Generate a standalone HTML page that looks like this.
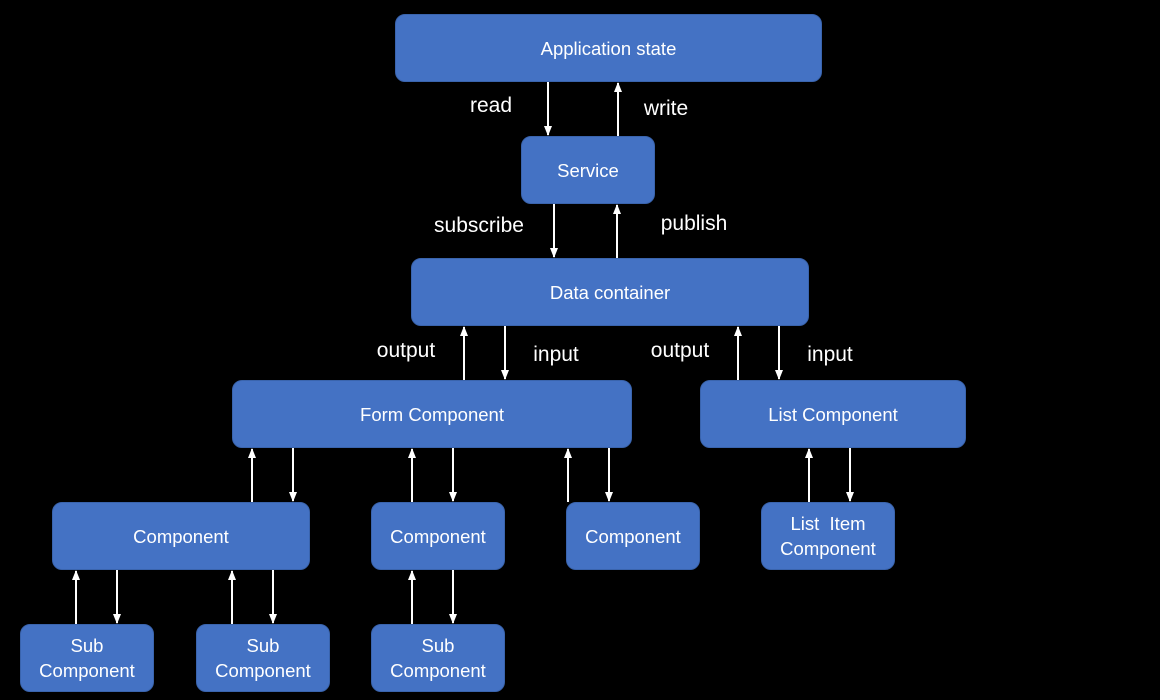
<!DOCTYPE html>
<html><head><meta charset="utf-8"><style>
html,body{margin:0;padding:0;background:#000;width:1160px;height:700px;overflow:hidden}
.b{position:absolute;background:#4472C4;border:1px solid #3a64ad;border-radius:10px;box-sizing:border-box;color:#fff;font-family:"Liberation Sans",sans-serif;font-size:18.5px;display:flex;align-items:center;justify-content:center;text-align:center;line-height:25px}
.l{position:absolute;color:#fff;font-family:"Liberation Sans",sans-serif;font-size:21px;transform:translate(-50%,-50%);white-space:nowrap}
svg{position:absolute;left:0;top:0}
</style></head><body>
<div class="b" style="left:395px;top:14px;width:427px;height:68px">Application state</div>
<div class="b" style="left:521px;top:136px;width:134px;height:68px">Service</div>
<div class="b" style="left:411px;top:258px;width:398px;height:68px">Data container</div>
<div class="b" style="left:232px;top:380px;width:400px;height:68px">Form Component</div>
<div class="b" style="left:700px;top:380px;width:266px;height:68px">List Component</div>
<div class="b" style="left:52px;top:502px;width:258px;height:68px">Component</div>
<div class="b" style="left:371px;top:502px;width:134px;height:68px">Component</div>
<div class="b" style="left:566px;top:502px;width:134px;height:68px">Component</div>
<div class="b" style="left:761px;top:502px;width:134px;height:68px">List&nbsp; Item<br>Component</div>
<div class="b" style="left:20px;top:624px;width:134px;height:68px">Sub<br>Component</div>
<div class="b" style="left:196px;top:624px;width:134px;height:68px">Sub<br>Component</div>
<div class="b" style="left:371px;top:624px;width:134px;height:68px">Sub<br>Component</div>
<div class="l" style="left:491px;top:106px">read</div>
<div class="l" style="left:666px;top:109px">write</div>
<div class="l" style="left:479px;top:226px">subscribe</div>
<div class="l" style="left:694px;top:224px">publish</div>
<div class="l" style="left:406px;top:351px">output</div>
<div class="l" style="left:556px;top:355px">input</div>
<div class="l" style="left:680px;top:351px">output</div>
<div class="l" style="left:830px;top:355px">input</div>
<svg width="1160" height="700">
<defs>
<marker id="d" markerWidth="10" markerHeight="10" refX="5" refY="9" orient="0" markerUnits="userSpaceOnUse"><path d="M1,0 L9,0 L5,10 z" fill="#fff"/></marker>
<marker id="u" markerWidth="10" markerHeight="10" refX="5" refY="1" orient="0" markerUnits="userSpaceOnUse"><path d="M1,10 L9,10 L5,0 z" fill="#fff"/></marker></defs>
<g stroke="#fff" stroke-width="2">
<line x1="548" y1="82" x2="548" y2="135" marker-end="url(#d)"/>
<line x1="618" y1="136" x2="618" y2="83" marker-end="url(#u)"/>
<line x1="554" y1="204" x2="554" y2="257" marker-end="url(#d)"/>
<line x1="617" y1="258" x2="617" y2="205" marker-end="url(#u)"/>
<line x1="464" y1="380" x2="464" y2="327" marker-end="url(#u)"/>
<line x1="505" y1="326" x2="505" y2="379" marker-end="url(#d)"/>
<line x1="738" y1="380" x2="738" y2="327" marker-end="url(#u)"/>
<line x1="779" y1="326" x2="779" y2="379" marker-end="url(#d)"/>
<line x1="252" y1="502" x2="252" y2="449" marker-end="url(#u)"/>
<line x1="293" y1="448" x2="293" y2="501" marker-end="url(#d)"/>
<line x1="412" y1="502" x2="412" y2="449" marker-end="url(#u)"/>
<line x1="453" y1="448" x2="453" y2="501" marker-end="url(#d)"/>
<line x1="568" y1="502" x2="568" y2="449" marker-end="url(#u)"/>
<line x1="609" y1="448" x2="609" y2="501" marker-end="url(#d)"/>
<line x1="809" y1="502" x2="809" y2="449" marker-end="url(#u)"/>
<line x1="850" y1="448" x2="850" y2="501" marker-end="url(#d)"/>
<line x1="76" y1="624" x2="76" y2="571" marker-end="url(#u)"/>
<line x1="117" y1="570" x2="117" y2="623" marker-end="url(#d)"/>
<line x1="232" y1="624" x2="232" y2="571" marker-end="url(#u)"/>
<line x1="273" y1="570" x2="273" y2="623" marker-end="url(#d)"/>
<line x1="412" y1="624" x2="412" y2="571" marker-end="url(#u)"/>
<line x1="453" y1="570" x2="453" y2="623" marker-end="url(#d)"/>
</g></svg>
</body></html>
